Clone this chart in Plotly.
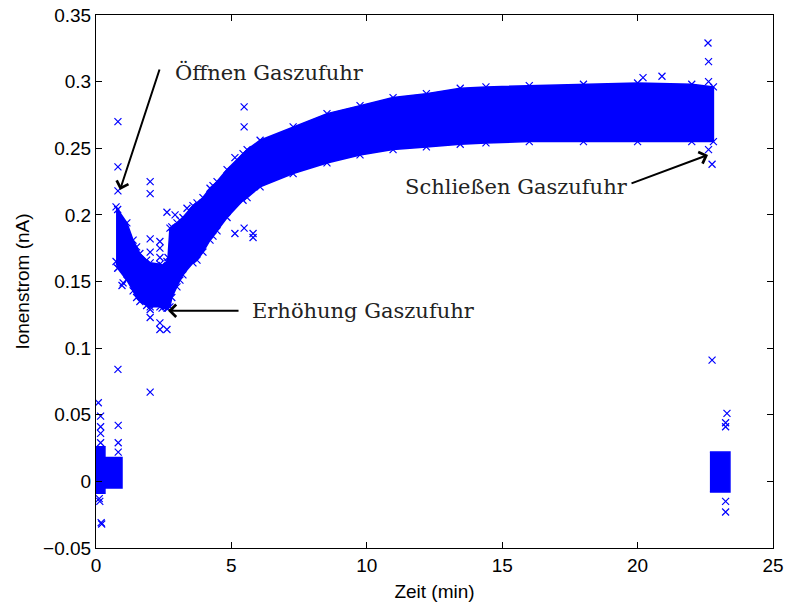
import plotly.graph_objects as go

# ---- main band envelope (time in min, lower / upper current in nA) ----
band_t = [0.74, 0.80, 1.14, 1.37, 1.50, 1.62, 1.87, 2.00, 2.36, 2.44, 2.62, 2.66, 2.73, 2.80,
          2.99, 3.10, 3.21, 3.58, 3.73, 3.95, 4.21, 4.32, 4.47, 4.84, 5.43, 5.58, 6.06, 7.28,
          8.53, 9.75, 10.97, 12.2, 13.45, 14.4, 16.0, 18.0, 20.0, 22.0, 22.8]
band_hi = [0.206, 0.204, 0.194, 0.181, 0.176, 0.171, 0.166, 0.164, 0.163, 0.162, 0.165, 0.168,
           0.190, 0.191, 0.194, 0.196, 0.198, 0.207, 0.209, 0.213, 0.220, 0.222, 0.225, 0.234,
           0.246, 0.249, 0.256, 0.266, 0.276, 0.282, 0.288, 0.291, 0.295, 0.296, 0.297, 0.298,
           0.299, 0.298, 0.296]
band_lo = [0.165, 0.160, 0.151, 0.143, 0.138, 0.135, 0.132, 0.131, 0.131, 0.130, 0.130, 0.130,
           0.131, 0.138, 0.146, 0.151, 0.155, 0.164, 0.166, 0.172, 0.181, 0.184, 0.188, 0.198,
           0.211, 0.213, 0.221, 0.231, 0.239, 0.245, 0.249, 0.251, 0.253, 0.254, 0.255, 0.255,
           0.255, 0.255, 0.255]

# ---- baseline clusters (gas off) ----
c1_t = [0.0, 0.33, 0.33, 0.96]
c1_hi = [0.026, 0.026, 0.018, 0.018]
c1_lo = [-0.009, -0.009, -0.005, -0.005]
c2_t = [22.67, 23.41]
c2_hi = [0.022, 0.022]
c2_lo = [-0.008, -0.008]

# ---- isolated points ----
out_t = [0.085, 0.17, 0.17, 0.17, 0.17, 0.12, 0.14, 0.21, 0.19, 0.82, 0.82, 0.82, 0.81, 2.0,
         0.81, 0.81, 0.81, 0.81, 1.0, 0.96, 2.0, 2.0, 2.0, 2.0, 2.36, 2.36, 2.36, 2.62, 2.92,
         3.36, 2.0, 2.0, 2.36, 2.36, 2.62, 5.47, 5.47, 5.13, 5.13, 5.47, 5.8, 5.8,
         20.2, 20.9, 22.6, 22.62, 22.62, 22.62, 22.75,
         22.75, 23.3, 23.25, 23.25, 23.25, 23.25]
out_y = [0.059, 0.049, 0.041, 0.036, 0.029, -0.013, -0.015, -0.032, -0.031, 0.042, 0.029, 0.022,
         0.084, 0.067,
         0.270, 0.236, 0.218, 0.160, 0.149, 0.147, 0.225, 0.216, 0.182, 0.172, 0.180, 0.175, 0.168,
         0.202, 0.200, 0.205, 0.129, 0.123, 0.119, 0.114, 0.114, 0.281, 0.266, 0.243, 0.186,
         0.190, 0.186, 0.183,
         0.303, 0.304, 0.329, 0.315, 0.300, 0.249, 0.238,
         0.091, 0.051, 0.041, 0.044, -0.015, -0.023]

x_ticks = [0, 5, 10, 15, 20, 25]
y_ticks = [-0.05, 0, 0.05, 0.1, 0.15, 0.2, 0.25, 0.3, 0.35]
y_tick_text = ["\u22120.05", "0", "0.05", "0.1", "0.15", "0.2", "0.25", "0.3", "0.35"]

BLUE = "#0000ff"

fig = go.Figure()


def add_band(t, lo, hi):
    fig.add_trace(go.Scatter(
        x=list(t) + list(t)[::-1], y=list(hi) + list(lo)[::-1],
        mode="lines", fill="toself", fillcolor=BLUE,
        line=dict(color=BLUE, width=1.5), hoverinfo="skip", showlegend=False))


add_band(band_t, band_lo, band_hi)
add_band(c1_t, c1_lo, c1_hi)
add_band(c2_t, c2_lo, c2_hi)

marker_style = dict(symbol="x-thin", size=7, line=dict(color=BLUE, width=1.2))

# edge texture markers along the envelopes
fig.add_trace(go.Scatter(
    x=band_t + band_t, y=band_hi + band_lo, mode="markers",
    marker=marker_style, showlegend=False, hoverinfo="skip"))

fig.add_trace(go.Scatter(
    x=out_t, y=out_y, mode="markers", marker=marker_style, showlegend=False))

serif = "DejaVu Serif"
label_font = dict(family=serif, size=21, color="#222222")

annotations = [
    # arrows
    dict(x=0.887, y=0.2187, xref="x", yref="y", ax=40, ay=-122, axref="pixel", ayref="pixel",
         text="", showarrow=True, arrowhead=4, arrowsize=1.2, arrowwidth=2, arrowcolor="black"),
    dict(x=2.66, y=0.128, xref="x", yref="y", ax=72, ay=0,
         text="", showarrow=True, arrowhead=4, arrowsize=1.2, arrowwidth=2, arrowcolor="black"),
    dict(x=22.6, y=0.245, xref="x", yref="y", ax=-78, ay=29,
         text="", showarrow=True, arrowhead=4, arrowsize=1.2, arrowwidth=2, arrowcolor="black"),
    # labels
    dict(x=2.84, y=0.307, xref="x", yref="y", text="Öffnen Gaszufuhr", showarrow=False,
         xanchor="left", yanchor="middle", font=label_font),
    dict(x=5.69, y=0.128, xref="x", yref="y", text="Erhöhung Gaszufuhr", showarrow=False,
         xanchor="left", yanchor="middle", font=label_font),
    dict(x=11.34, y=0.221, xref="x", yref="y", text="Schließen Gaszufuhr", showarrow=False,
         xanchor="left", yanchor="middle", font=label_font),
]

axis_common = dict(showline=True, linecolor="black", linewidth=1, mirror="ticks",
                   ticks="inside", ticklen=6, tickcolor="black", showgrid=False, zeroline=False,
                   automargin=False,
                   tickfont=dict(family="Liberation Sans", size=19, color="black"))

fig.update_layout(
    width=787, height=605,
    margin=dict(l=96, r=14, t=15, b=57),
    paper_bgcolor="white", plot_bgcolor="white",
    xaxis=dict(range=[0, 25], tickvals=x_ticks,
               title=dict(text="Zeit (min)", standoff=9,
                          font=dict(family="Liberation Sans", size=19, color="black")),
               **axis_common),
    yaxis=dict(range=[-0.05, 0.35], tickvals=y_ticks, ticktext=y_tick_text,
               title=dict(text="Ionenstrom (nA)", standoff=8,
                          font=dict(family="Liberation Sans", size=19, color="black")),
               **axis_common),
    annotations=annotations,
    showlegend=False,
)

fig.write_html("out.html")
